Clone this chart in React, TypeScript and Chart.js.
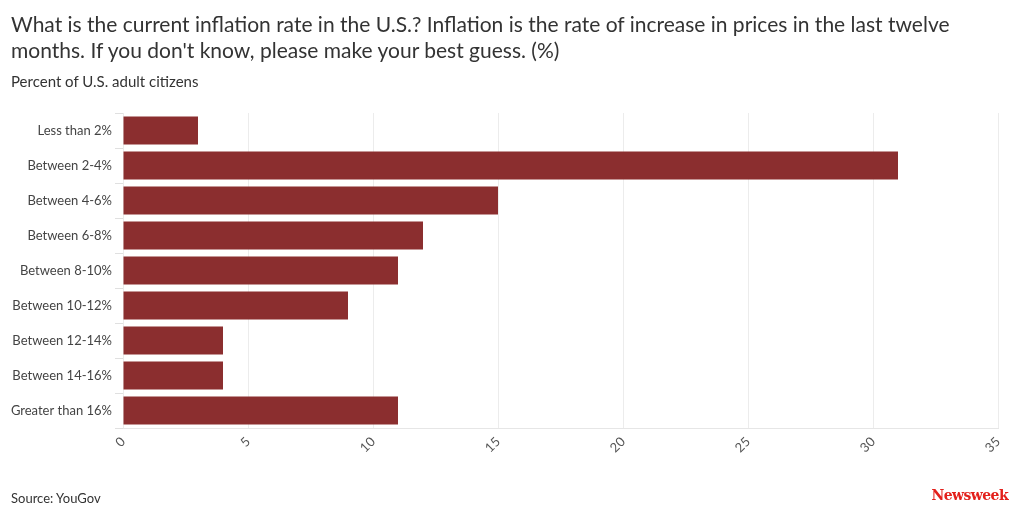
import React, { useEffect, useRef } from "react";
import { Chart, registerables } from "chart.js";

Chart.register(...registerables);

const categories = [
  "Less than 2%",
  "Between 2-4%",
  "Between 4-6%",
  "Between 6-8%",
  "Between 8-10%",
  "Between 10-12%",
  "Between 12-14%",
  "Between 14-16%",
  "Greater than 16%",
];
const values = [3, 31, 15, 12, 11, 9, 4, 4, 11];
const xTicks = [0, 5, 10, 15, 20, 25, 30, 35];

const FONT = "Lato, 'Noto Sans', sans-serif";

export default function App() {
  const ref = useRef<HTMLCanvasElement | null>(null);

  useEffect(() => {
    document.body.style.margin = "0";
    const canvas = ref.current;
    if (!canvas) return;
    const chart = new Chart(canvas, {
      type: "bar",
      data: {
        labels: categories,
        datasets: [
          {
            data: values,
            backgroundColor: "#8b2e2f",
            borderWidth: 0,
            barPercentage: 0.8,
            categoryPercentage: 1,
          },
        ],
      },
      options: {
        indexAxis: "y",
        animation: false,
        responsive: false,
        maintainAspectRatio: false,
        layout: { padding: { top: 113, right: 22, bottom: 0, left: 0 } },
        plugins: {
          legend: { display: false },
          tooltip: { enabled: false },
          title: { display: false },
        },
        scales: {
          x: {
            type: "linear",
            min: 0,
            max: 35,
            afterBuildTicks: (scale: any) => {
              scale.ticks = xTicks.map((v) => ({ value: v }));
            },
            afterFit: (scale: any) => {
              scale.height = 104;
            },
            grid: {
              color: "#ececec",
              drawTicks: false,
            },
            border: { display: true, color: "#e6e6e6" },
            ticks: {
              minRotation: 45,
              maxRotation: 45,
              padding: 6,
              color: "#555",
              font: { family: FONT, size: 13 },
            },
          },
          y: {
            afterFit: (scale: any) => {
              scale.width = 123;
            },
            grid: {
              drawOnChartArea: false,
              drawTicks: true,
              tickLength: 8,
              color: "#e0e0e0",
            },
            border: { display: false },
            ticks: {
              padding: 3,
              color: "#444",
              font: { family: FONT, size: 13 },
            },
          },
        },
      },
    });
    return () => chart.destroy();
  }, []);

  return (
    <div style={{ position: "relative", width: 1020, height: 532, background: "#fff", overflow: "hidden" }}>
      <canvas ref={ref} width={1020} height={532} style={{ position: "absolute", left: 0, top: 0 }} />
      <div
        style={{
          position: "absolute",
          left: 11,
          top: 11,
          width: 1000,
          fontFamily: FONT,
          fontSize: 21,
          lineHeight: "26px",
          color: "#333",
        }}
      >
        What is the current inflation rate in the U.S.? Inflation is the rate of increase in prices in the last twelve
        <br />
        months. If you don't know, please make your best guess. (%)
      </div>
      <div
        style={{
          position: "absolute",
          left: 11,
          top: 72,
          fontFamily: FONT,
          fontSize: 15,
          color: "#333",
        }}
      >
        Percent of U.S. adult citizens
      </div>
      <div
        style={{
          position: "absolute",
          left: 11,
          top: 490,
          fontFamily: FONT,
          fontSize: 13,
          color: "#333",
        }}
      >
        Source: YouGov
      </div>
      <div
        style={{
          position: "absolute",
          right: 12,
          top: 487,
          fontFamily: "'DejaVu Serif', 'Liberation Serif', serif",
          fontWeight: "bold",
          fontSize: 14,
          letterSpacing: -0.6,
          color: "#e3201b",
        }}
      >
        Newsweek
      </div>
    </div>
  );
}
